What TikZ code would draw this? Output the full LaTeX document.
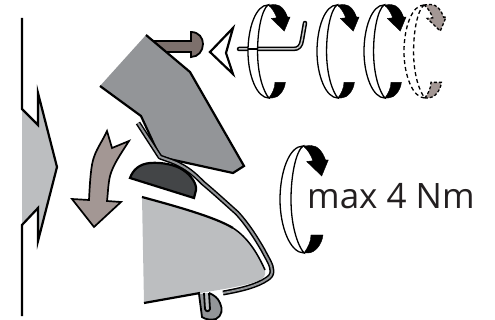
\documentclass[tikz,border=0pt]{standalone}
\usepackage{fontspec}
\setmainfont{Open Sans}
\definecolor{upgray}{HTML}{939598}
\definecolor{lowgray}{HTML}{BCBEC0}
\definecolor{brownarrow}{HTML}{A39794}
\definecolor{pinbrown}{HTML}{7D706C}
\definecolor{darkgray}{HTML}{434547}
\definecolor{textgray}{HTML}{231F20}
\tikzset{
  outline/.style={draw=black,line width=2.2pt,line join=miter},
  thin edge/.style={draw=black,line width=1.5pt},
  ring band/.style={draw=black,line width=1.3pt,fill=white},
  ring head/.style={fill=black,draw=black,line width=.4pt},
  dashed band/.style={draw=black,line width=1.3pt,dash pattern=on 4pt off 3pt},
  dashed head/.style={fill=brownarrow,draw=black,line width=1.3pt,dash pattern=on 3pt off 2pt},
}
\newcommand{\ringshape}[5]{%
 \begin{scope}[shift={(#1,#2)},scale=#3]
  \path[#4] (0,-53.5) .. controls (-14,-53.5) and (-23,-27) .. (-23,0)
     .. controls (-23,27) and (-13,53.5) .. (1,53.5)
     .. controls (-6,45) and (-12,25) .. (-12,0)
     .. controls (-12,-25) and (-7,-48) .. (0,-53.5) -- cycle;
  \path[#5] (0,-53.5) -- (8,-54) .. controls (15,-54) and (20,-47) .. (22.5,-39.5) -- (25.3,-39.5) -- (18.7,-23.5) -- (3.7,-38) -- (10,-38.7) .. controls (8,-44) and (5,-50) .. (0,-53.5) -- cycle;
  \path[#5] (1,53.5) .. controls (5,48) and (8,42) .. (8,35.5) -- (20,35.5) .. controls (19,45) and (12,53.5) .. (5,53.5) -- cycle;
 \end{scope}}
\begin{document}
\begin{tikzpicture}[x=1pt,y=-1pt]
\useasboundingbox (0,0) rectangle (495,320);
% big left arrow
\fill[lowgray] (22,109) -- (38,125) -- (38,93) -- (57,167) -- (38,241) -- (38,208) -- (22,225) -- cycle;
\draw[outline] (22,18) -- (22,109) -- (38,125) -- (38,93) -- (57,167) -- (38,241) -- (38,208) -- (22,225) -- (22,316);
% brown arrow
\draw[outline,fill=brownarrow,line width=1.7pt] (94,227) -- (72,199) -- (89,200) .. controls (90,180) and (91,165) .. (94,157) .. controls (97,148) and (103,140) .. (107,131) -- (112,148) -- (129,141) .. controls (120,155) and (113,165) .. (110,176) .. controls (108,185) and (108,193) .. (107,201) -- (121,202) -- cycle;
% pin
\draw[thin edge,line width=1.8pt,fill=pinbrown] (150,41) -- (191,41) -- (191,32) .. controls (199,32) and (203,38) .. (203,44) .. controls (203,51) and (198,57) .. (191,57) -- (191,52) -- (150,52) -- cycle;
% upper block
\fill[upgray] (146,35) -- (190,72) -- (244,166) -- (233,173) -- (160,157) -- (141,116) -- (100,86) -- cycle;
\draw[outline] (100,86) -- (141,116) -- (160,157) -- (233,173) -- (244,166) -- (190,72) -- (146,35);
% lower block
\fill[lowgray] (142,197) .. controls (175,206) and (215,217) .. (233,228) .. controls (247,237) and (257,252) .. (265,270) .. controls (266,275) and (264,278) .. (260,280) .. controls (250,285) and (225,289) .. (200,293) -- (144,303) -- cycle;
\draw[outline] (142,197) .. controls (175,206) and (215,217) .. (233,228);
\draw[thin edge] (233,228) .. controls (247,237) and (257,252) .. (265,270);
\draw[outline] (144,303) -- (200,293);
% clip at bottom
\draw[thin edge,line width=1.8pt,fill=upgray] (199,294) -- (202,317) .. controls (206,320) and (212,320) .. (216,319) .. controls (222,316) and (223,309) .. (220,303) .. controls (218,298) and (214,295) .. (209,293);
\draw[thin edge,line width=1.8pt,fill=lowgray] (204,293) -- (205,309) .. controls (206,312) and (209,312) .. (210,309) -- (209,293);
% dark wedge
\draw[outline,fill=darkgray] (130,178) .. controls (133,170) and (139,164) .. (150,163) .. controls (162,162) and (176,165) .. (183,170) .. controls (191,175) and (197,184) .. (196,190) -- (194,198) -- cycle;
% strip
\path[draw=black,line width=5pt,line join=round] (138,123) -- (160,157) .. controls (168,160) and (175,162) .. (180,165) .. controls (190,170) and (197,177) .. (203,183) .. controls (215,193) and (228,205) .. (237,213) .. controls (248,225) and (256,238) .. (263,250) .. controls (267,258) and (272,265) .. (272,271) .. controls (272,275) and (270,277) .. (267,279) .. controls (257,286) and (240,290) .. (223,293);
\path[draw=upgray,line width=2pt,line join=round] (138,123) -- (160,157) .. controls (168,160) and (175,162) .. (180,165) .. controls (190,170) and (197,177) .. (203,183) .. controls (215,193) and (228,205) .. (237,213) .. controls (248,225) and (256,238) .. (263,250) .. controls (267,258) and (272,265) .. (272,271) .. controls (272,275) and (270,277) .. (267,279) .. controls (257,286) and (240,290) .. (223,293);
% chevron
\draw[outline,fill=white] (233,28) -- (210,52) -- (233,74) -- (226,53) -- cycle;
% wrench
\draw[black,line width=4.5pt,line cap=round,line join=round] (239,49) -- (293,49) .. controls (299,49) and (301,46) .. (302,40) -- (305,23);
\draw[upgray!50,line width=1.5pt,line cap=round,line join=round] (239,49) -- (293,49) .. controls (299,49) and (301,46) .. (302,40) -- (305,23);
% rings
\ringshape{268}{51.5}{.87}{ring band}{ring head}
\draw[black,line width=1.3pt] (248,49) -- (258,49);
\ringshape{337}{51.5}{.87}{ring band}{ring head}
\ringshape{384}{51.5}{.87}{ring band}{ring head}
\ringshape{424}{51.5}{.87}{dashed band}{dashed head}
\ringshape{303}{199.5}{1}{ring band}{ring head}
% label
\node[anchor=base west,inner sep=0pt,text=textgray,font=\fontsize{35}{35}\selectfont] (maxlabel) at (307,209) {max 4 Nm};
\end{tikzpicture}
\end{document}
